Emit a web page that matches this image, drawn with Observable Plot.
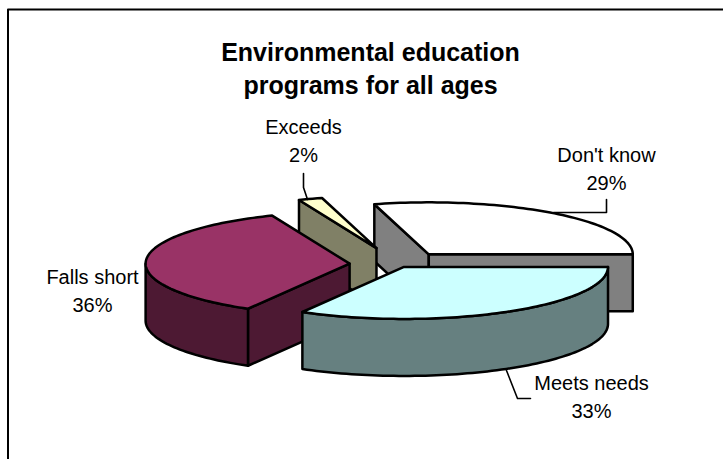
<!DOCTYPE html>
<html><head><meta charset="utf-8">
<script src="https://cdn.jsdelivr.net/npm/d3@7"></script>
<script src="https://cdn.jsdelivr.net/npm/@observablehq/plot@0.6"></script>
<style>html,body{margin:0;padding:0;background:#fff}svg{display:block}</style>
</head><body><div id="chart"></div>
<script>
// Data, clockwise from east
const categories = ["Meets needs", "Falls short", "Exceeds", "Don't know"];
const shares = [33.3, 35.5, 1.9, 29.3];
const percentLabels = ["33%", "36%", "2%", "29%"];
const titleLines = ["Environmental education", "programs for all ages"];

// Look of the pie
const topColors = ["#CCFFFF", "#993366", "#FFFFCC", "#FFFFFF"];
const sideColors = ["#668080", "#4D1933", "#808066", "#808080"];
const explode = [11, 49, 68, 50];
const center = [398, 264], rx = 204, ry = 52, depth = 57;
const paintOrder = [3, 2, 1, 0];

// Label and leader layout
const labelAt = [[591, 383], [92, 277], [303, 127], [606, 155]];
const lineGap = 28;
const leaders = [
  [[506, 370], [517, 398], [530, 398]],
  [],
  [[303, 173], [303, 187], [307, 199]],
  [[606, 199], [606, 212], [553, 212]]
];

const rad = d => d * Math.PI / 180;
const total = d3.sum(shares);
let run = 0;
const slices = shares.map((s, i) => {
  const a0 = run / total * 360; run += s;
  const a1 = run / total * 360, mid = (a0 + a1) / 2;
  return {
    i, a0, a1,
    cx: center[0] + explode[i] * Math.cos(rad(mid)),
    cy: center[1] + explode[i] * (ry / rx) * Math.sin(rad(mid))
  };
});
const rim = (s, a, dz = 0) => ({x: s.cx + rx * Math.cos(rad(a)), y: s.cy + ry * Math.sin(rad(a)) + dz});
const apex = (s, dz = 0) => ({x: s.cx, y: s.cy + dz});
const sweep = (a, b, dz = 0, s) => {
  const n = Math.max(2, Math.ceil(Math.abs(b - a) / 1.5));
  return d3.range(n + 1).map(k => rim(s, a + (b - a) * k / n, dz));
};
const closed = pts => [...pts, pts[0]];

const faces = [];
for (const idx of paintOrder) {
  const s = slices[idx];
  // radial walls that face the viewer
  if (Math.sin(rad(s.a0 - 90)) > 0)
    faces.push({fill: sideColors[idx], pts: closed([apex(s), rim(s, s.a0), rim(s, s.a0, depth), apex(s, depth)])});
  if (Math.sin(rad(s.a1 + 90)) > 0)
    faces.push({fill: sideColors[idx], pts: closed([apex(s), rim(s, s.a1), rim(s, s.a1, depth), apex(s, depth)])});
  // outer curved wall, front half only
  const lo = s.a0, hi = Math.min(s.a1, 180);
  if (lo < 180)
    faces.push({fill: sideColors[idx], pts: closed([...sweep(lo, hi, 0, s), ...sweep(hi, lo, depth, s)])});
  // top
  faces.push({fill: topColors[idx], pts: closed([apex(s), ...sweep(s.a0, s.a1, 0, s)])});
}

const labelRows = categories.flatMap((c, i) => [
  {t: c, x: labelAt[i][0], y: labelAt[i][1]},
  {t: percentLabels[i], x: labelAt[i][0], y: labelAt[i][1] + lineGap}
]);
const titleRows = titleLines.map((t, i) => ({t, x: 370, y: 52 + i * 33}));

const frame = [{x: 7.5, y: 459}, {x: 7.5, y: 9}, {x: 723, y: 9}];

const chart = Plot.plot({
  width: 723, height: 459, margin: 0,
  x: {domain: [0, 723], range: [0, 723], axis: null},
  y: {domain: [0, 459], range: [0, 459], axis: null},
  style: {background: "#fff"},
  marks: [
    Plot.line(frame, {x: "x", y: "y", stroke: "#000", strokeWidth: 2}),
    ...faces.map(f => Plot.line(f.pts, {x: "x", y: "y", fill: f.fill, stroke: "#000", strokeWidth: 2.5, strokeLinejoin: "round"})),
    ...leaders.filter(l => l.length).map(l => Plot.line(l, {x: d => d[0], y: d => d[1], stroke: "#000", strokeWidth: 1.6})),
    Plot.text(labelRows, {x: "x", y: "y", text: "t", fontSize: 20, fontFamily: "Liberation Sans", fill: "#000"}),
    Plot.text(titleRows, {x: "x", y: "y", text: "t", fontSize: 25, fontWeight: "bold", fontFamily: "Liberation Sans", fill: "#000"})
  ]
});
document.getElementById("chart").append(chart);
</script></body></html>
